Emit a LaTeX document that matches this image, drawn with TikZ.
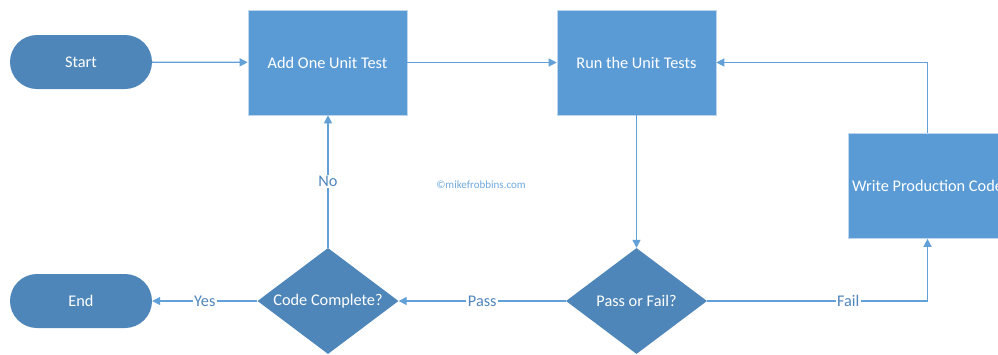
\documentclass[tikz,border=0pt]{standalone}
\usepackage{fontspec}
\setmainfont{Carlito}
\usetikzlibrary{shapes.geometric,arrows.meta}
\definecolor{boxblue}{HTML}{5B9BD5}
\definecolor{darkblue}{HTML}{4E86B9}
\definecolor{lineblue}{HTML}{62A0D8}
\definecolor{labelblue}{HTML}{4F86BE}
\definecolor{markblue}{HTML}{6FA8DC}

\begin{document}
\begin{tikzpicture}[x=1pt,y=-1pt,
  shapetext/.style={text=white, font=\fontsize{16.3}{19}\selectfont},
  stepbox/.style={rectangle, fill=boxblue, draw=boxblue!40, line width=0.6pt,
    minimum width=159pt, minimum height=105pt, inner sep=0pt, shapetext},
  terminal/.style={rectangle, rounded corners=27pt, fill=darkblue,
    minimum width=142pt, minimum height=54pt, inner sep=0pt, shapetext},
  decision/.style={diamond, fill=darkblue, minimum width=141pt,
    minimum height=106pt, inner sep=0pt},
  flow/.style={draw=lineblue, line width=1.3pt, -{Triangle[length=8pt,width=8pt]}},
  edgelabel/.style={fill=white, text=labelblue, inner sep=1.5pt,
    font=\fontsize{16.3}{19}\selectfont}
]
\useasboundingbox (0,0) rectangle (998,354);
\clip (0,0) rectangle (998,354);

% process steps
\node[terminal] (start) at (81,62) {Start};
\node[stepbox] (add) at (327.5,62.5) {Add One Unit Test};
\node[stepbox] (run) at (636.5,62.5) {Run the Unit Tests};
\node[stepbox] (write) at (927.5,186) {Write Production Code};

% decisions
\node[decision, label={[shapetext]center:Pass or Fail?}] (pf) at (636.5,301) {};
\node[decision, label={[shapetext]center:Code Complete?}] (cc) at (328,301) {};
\node[terminal] (end) at (81,301) {End};

% connectors
\draw[flow] (start) -- (add);
\draw[flow] (add) -- (run);
\draw[flow] (run.south) -- (pf.north);
\draw[flow] (pf.west) -- node[edgelabel] {Pass} (cc.east);
\draw[flow] (cc.west) -- node[edgelabel] {Yes} (end.east);
\draw[flow] (cc.north) -- node[edgelabel] {No} (cc.north |- add.south);
\draw[flow] (pf.east) -| node[edgelabel, pos=0.32] {Fail} (write.south);
\draw[flow] (write.north) |- (run.east);

% copyright mark
\node[text=markblue, font=\fontsize{11}{13}\selectfont, inner sep=0pt] (mark) at (481,185) {©mikefrobbins.com};
\end{tikzpicture}
\end{document}
